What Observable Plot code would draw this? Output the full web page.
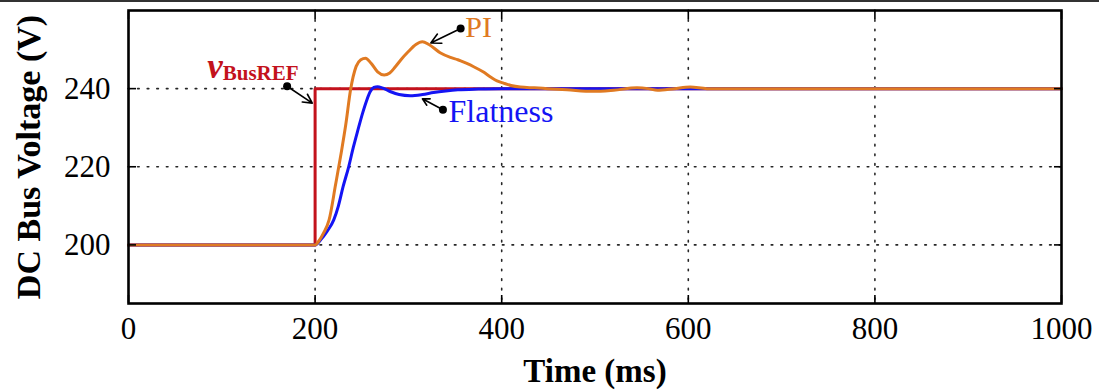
<!DOCTYPE html>
<html>
<head>
<meta charset="utf-8">
<script src="https://cdn.jsdelivr.net/npm/d3@7"></script>
<script src="https://cdn.jsdelivr.net/npm/@observablehq/plot@0.6"></script>
<style>
  html, body { margin: 0; padding: 0; background: #fff; }
  #wrap { position: relative; width: 1099px; height: 392px; }
  #topline { position: absolute; left: 0; top: 0; width: 1099px; height: 2px; background: #333; }
  svg { display: block; }
</style>
</head>
<body>
<div id="wrap"><div id="topline"></div></div>
<script>
// ---- data ----
const xTicks = [0, 200, 400, 600, 800, 1000];
const yTicks = [200, 220, 240];
const xLabel = "Time (ms)";
const yLabel = "DC Bus Voltage (V)";

// reference voltage (step)
const refTime = [0, 200, 1000];
const refVolt = [200, 240, 240];

// PI controller response
const piTime = [0, 200, 204, 209, 215, 222, 228, 233, 238, 244, 249, 254, 260, 267, 274, 280, 286, 292, 300, 308, 315, 322, 334, 345, 353, 362, 370, 380, 388, 395, 402, 410, 420, 435, 449, 470, 498, 520, 545, 557, 567, 585, 602, 620, 1000];
const piVolt = [200, 200, 201, 203, 206.4, 215.5, 223.6, 231, 239.7, 245.7, 247.4, 247.8, 246.5, 244.3, 243.5, 244, 245.6, 247.4, 249.5, 251.3, 252, 251.3, 249.2, 248, 247.4, 246.5, 245.6, 244.3, 243, 242, 241.4, 240.8, 240.4, 240.2, 240, 239.7, 239.3, 239.6, 240.2, 240, 239.6, 240, 240.4, 240, 240];

// Flatness controller response
const flTime = [0, 200, 206, 213, 220, 225, 230, 236, 241, 246, 251, 255, 259, 263, 267, 272, 281, 290, 302, 315, 327, 340, 353, 375, 400, 1000];
const flVolt = [200, 200, 201.3, 203.5, 206.4, 210, 214.9, 220, 225, 229.5, 233.8, 236.8, 239.2, 240.3, 240.5, 240.2, 239.2, 238.5, 238.2, 238.5, 239, 239.4, 239.7, 239.9, 240, 240];

// annotations: label anchor and arrow (dot -> tip)
const annLabels = ["PI", "Flatness"];
const annTextX = [361, 343];
const annTextY = [253.3, 231.5];
const arrowX1 = [170, 356, 337];
const arrowY1 = [240.6, 255.4, 234.6];
const arrowX2 = [197, 324, 315];
const arrowY2 = [236.3, 251.7, 237.4];
const refLabelMain = "v";
const refLabelSub = "BusREF";
const refLabelX = 101;
const refLabelY = [242.6, 242.1];

// ---- build tables ----
const ref = refTime.map((t, i) => ({t, v: refVolt[i]}));
const pi = piTime.map((t, i) => ({t, v: piVolt[i]}));
const fl = flTime.map((t, i) => ({t, v: flVolt[i]}));
const arrows = arrowX1.map((x1, i) => ({x1, y1: arrowY1[i], x2: arrowX2[i], y2: arrowY2[i]}));
const labels = annLabels.map((s, i) => ({s, x: annTextX[i], y: annTextY[i]}));

const C_REF = "#c3121c", C_PI = "#e07a22", C_FL = "#1414f4";
const font = "'Liberation Serif', 'Times New Roman', serif";
const grid = {stroke: "black", strokeOpacity: 0.85, strokeWidth: 1.6, strokeDasharray: "1.6,8", strokeLinecap: "round"};

const chart = Plot.plot({
  width: 1099,
  height: 392,
  marginLeft: 128,
  marginRight: 38,
  marginTop: 10,
  marginBottom: 89,
  style: {fontFamily: font, background: "white", color: "black"},
  x: {domain: [0, 1000]},
  y: {domain: [185, 260]},
  marks: [
    Plot.gridX(xTicks.slice(1, -1), grid),
    Plot.gridY(yTicks, grid),
    Plot.line(ref, {x: "t", y: "v", curve: "step-after", stroke: C_REF, strokeWidth: 3}),
    Plot.line(fl, {x: "t", y: "v", curve: "monotone-x", stroke: C_FL, strokeWidth: 3}),
    Plot.line(pi, {x: "t", y: "v", curve: "monotone-x", stroke: C_PI, strokeWidth: 3}),
    Plot.arrow(arrows, {x1: "x1", y1: "y1", x2: "x2", y2: "y2", stroke: "black", strokeWidth: 1.6, headLength: 11, headAngle: 55}),
    Plot.dot(arrows, {x: "x1", y: "y1", r: 4, fill: "black"}),
    Plot.text(labels.slice(0, 1), {x: "x", y: "y", text: "s", fill: C_PI, fontSize: 30, textAnchor: "start", lineAnchor: "bottom"}),
    Plot.text(labels.slice(1), {x: "x", y: "y", text: "s", fill: C_FL, fontSize: 32, textAnchor: "start", lineAnchor: "bottom"}),
    Plot.text([refLabelMain], {x: refLabelX, y: refLabelY[0], text: d => d, fill: C_REF, fontSize: 35, fontStyle: "italic", fontWeight: "bold", textAnchor: "end", lineAnchor: "bottom"}),
    Plot.text([refLabelSub], {x: refLabelX, y: refLabelY[1], text: d => d, fill: C_REF, fontSize: 21, fontWeight: "bold", textAnchor: "start", lineAnchor: "bottom"}),
    Plot.axisX(xTicks, {anchor: "bottom", tickSize: 0, tickPadding: 13, fontSize: 31, label: null, tickFormat: d => String(d)}),
    Plot.axisY(yTicks, {anchor: "left", tickSize: 0, tickPadding: 18, fontSize: 31, label: null, tickFormat: d => String(d)}),
    Plot.axisX(xTicks, {anchor: "bottom", tickSize: -8, tickFormat: () => "", label: null, strokeWidth: 1.6}),
    Plot.axisX(xTicks, {anchor: "top", tickSize: -8, tickFormat: () => "", label: null, strokeWidth: 1.6}),
    Plot.axisY(yTicks, {anchor: "left", tickSize: -8, tickFormat: () => "", label: null, strokeWidth: 1.6}),
    Plot.axisY(yTicks, {anchor: "right", tickSize: -8, tickFormat: () => "", label: null, strokeWidth: 1.6}),
    Plot.text([xLabel], {frameAnchor: "bottom", dy: 68, text: d => d, fontSize: 33, fontWeight: "bold", textAnchor: "middle", lineAnchor: "middle"}),
    Plot.text([yLabel], {frameAnchor: "left", dx: -99, rotate: -90, text: d => d, fontSize: 34, fontWeight: "bold", textAnchor: "middle", lineAnchor: "middle"}),
    Plot.frame({stroke: "black", strokeWidth: 2.6})
  ]
});
document.getElementById("wrap").appendChild(chart);
</script>
</body>
</html>
